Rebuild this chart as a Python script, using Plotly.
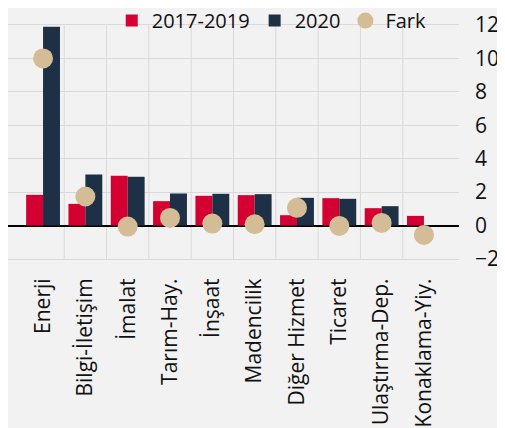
import plotly.graph_objects as go

categories = ["Enerji", "Bilgi-İletişim", "İmalat", "Tarım-Hay.", "İnşaat",
              "Madencilik", "Diğer Hizmet", "Ticaret", "Ulaştırma-Dep.", "Konaklama-Yiy."]
s_2017_2019 = [1.84, 1.30, 2.98, 1.46, 1.78, 1.82, 0.62, 1.64, 1.04, 0.58]
s_2020 = [11.9, 3.05, 2.92, 1.92, 1.90, 1.88, 1.66, 1.60, 1.16, 0.0]
fark = [10.0, 1.74, -0.06, 0.46, 0.12, 0.08, 1.06, -0.02, 0.16, -0.56]
y_ticks = [-2, 0, 2, 4, 6, 8, 10, 12]

RED = "#d50032"
NAVY = "#1d3045"
TAN = "#d4bc96"
BG = "#f2f2f2"
FONT = "Open Sans"

fig = go.Figure()
fig.add_trace(go.Bar(name="2017-2019", x=categories, y=s_2017_2019, marker_color=RED,
                     marker_line_width=0))
fig.add_trace(go.Bar(name="2020", x=categories, y=s_2020, marker_color=NAVY,
                     marker_line_width=0))
fig.add_trace(go.Scatter(name="Fark", x=categories, y=fark, mode="markers",
                         marker=dict(color=TAN, size=20)))

# the page body adds an 8px offset, so the figure is sized to fit the window
fig.update_layout(
    width=497, height=420,
    paper_bgcolor=BG, plot_bgcolor=BG,
    margin=dict(l=0, r=46, t=17, b=169, autoexpand=False),
    barmode="group", bargap=0.2, bargroupgap=0,
    font=dict(family=FONT, size=21, color="#111111"),
    legend=dict(orientation="h", x=0.230, xanchor="left", y=1.019, yanchor="middle",
                bgcolor="rgba(0,0,0,0)", font=dict(size=20),
                itemwidth=30, tracegroupgap=0),
    showlegend=True,
)
fig.update_xaxes(
    tickangle=-90, showgrid=False, showline=True, linecolor="#d9d9d9", mirror=True,
    ticks="", ticklabelstandoff=10, tickfont=dict(size=21),
)
# vertical gridlines at category boundaries
for i in range(len(categories) - 1):
    fig.add_vline(x=i + 0.5, line_color="#d9d9d9", line_width=1, layer="below")
fig.update_yaxes(
    side="right", range=[-2, 12], tickvals=y_ticks, showgrid=True, gridcolor="#d9d9d9",
    zeroline=True, zerolinecolor="#000000", zerolinewidth=1.5,
    ticks="", ticklabelstandoff=15, tickfont=dict(size=21),
)
fig.write_html("out.html")
